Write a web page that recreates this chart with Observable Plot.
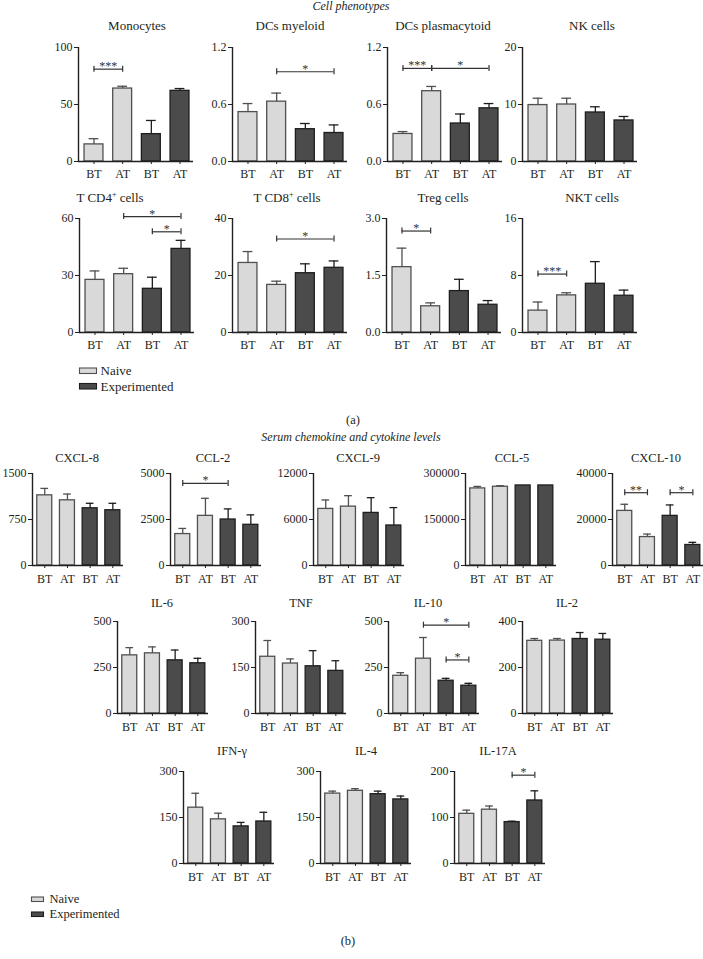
<!DOCTYPE html>
<html>
<head>
<meta charset="utf-8">
<script src="https://cdn.jsdelivr.net/npm/d3@7"></script>
<script src="https://cdn.jsdelivr.net/npm/@observablehq/plot@0.6"></script>
<style>
  html, body { margin: 0; padding: 0; background: #ffffff; }
  #root { position: relative; width: 703px; height: 959px; overflow: hidden; font-family: "Liberation Serif", "Times New Roman", "DejaVu Serif", serif; color: #231f20; }
  #root svg { position: absolute; }
  #root text { font-family: "Liberation Serif", "Times New Roman", "DejaVu Serif", serif; }
</style>
</head>
<body>
<div id="root"></div>
<script>
// ---------------- DATA ----------------
const groupLabels = ["BT", "AT", "BT", "AT"];
const cohorts = ["Naive", "Naive", "Experimented", "Experimented"];
const legendLabels = ["Naive", "Experimented"];

// (a) Cell phenotypes
const cellNames = ["Monocytes", "DCs myeloid", "DCs plasmacytoid", "NK cells",
                   "T CD4+ cells", "T CD8+ cells", "Treg cells", "NKT cells"];
const cellMeans = [
  [15, 64, 24, 62],
  [0.52, 0.63, 0.34, 0.30],
  [0.29, 0.74, 0.40, 0.56],
  [9.9, 10.0, 8.6, 7.2],
  [27.7, 30.7, 23.0, 44.0],
  [24.4, 16.7, 20.8, 22.7],
  [1.72, 0.69, 1.09, 0.73],
  [3.07, 5.21, 6.84, 5.16]
];
const cellErrTop = [
  [20, 66, 36, 64],
  [0.61, 0.72, 0.40, 0.385],
  [0.315, 0.79, 0.50, 0.61],
  [11.1, 11.1, 9.6, 7.9],
  [32.4, 33.8, 29.1, 48.5],
  [28.4, 18.0, 24.1, 25.1],
  [2.22, 0.78, 1.40, 0.84],
  [4.28, 5.58, 9.95, 5.95]
];
const cellMax = [100, 1.2, 1.2, 20, 60, 40, 3, 16];
const cellTickLabels = [
  ["0", "50", "100"], ["0.0", "0.6", "1.2"], ["0.0", "0.6", "1.2"], ["0", "10", "20"],
  ["0", "30", "60"], ["0", "20", "40"], ["0.0", "1.5", "3.0"], ["0", "8", "16"]
];
const cellSig = [
  [{from: 0, to: 1, y: 81, label: "***"}],
  [{from: 1, to: 3, y: 0.945, label: "*"}],
  [{from: 0, to: 1, y: 0.98, label: "***"}, {from: 1, to: 3, y: 0.98, label: "*"}],
  [],
  [{from: 1, to: 3, y: 61, label: "*"}, {from: 2, to: 3, y: 53, label: "*"}],
  [{from: 1, to: 3, y: 32.8, label: "*"}],
  [{from: 0, to: 1, y: 2.67, label: "*"}],
  [{from: 0, to: 1, y: 8.2, label: "***"}]
];

// (b) Serum chemokine and cytokine levels
const cytoNames = ["CXCL-8", "CCL-2", "CXCL-9", "CCL-5", "CXCL-10",
                   "IL-6", "TNF", "IL-10", "IL-2",
                   "IFN-γ", "IL-4", "IL-17A"];
const cytoMeans = [
  [1144, 1063, 933, 901],
  [1709, 2698, 2500, 2212],
  [7380, 7680, 6860, 5220],
  [251400, 256800, 261000, 261000],
  [23740, 12370, 21580, 8920],
  [316, 327, 289, 273],
  [185, 163, 154, 139],
  [205, 298, 178, 151],
  [316, 317, 324, 321],
  [182, 144, 121, 137],
  [228, 237, 226, 209],
  [108, 117, 90, 137]
];
const cytoErrTop = [
  [1257, 1165, 1014, 1014],
  [2014, 3651, 3076, 2752],
  [8547, 9108, 8849, 7554],
  [257900, 260100, 261000, 261000],
  [26620, 13670, 26330, 10070],
  [358, 362, 345, 300],
  [238, 178, 205, 172],
  [222, 413, 191, 164],
  [326, 326, 352, 348],
  [229, 164, 134, 167],
  [236, 244, 236, 220],
  [116, 125, 92, 158]
];
const cytoMax = [1500, 5000, 12000, 300000, 40000, 500, 300, 500, 400, 300, 300, 200];
const cytoTickLabels = [
  ["0", "750", "1500"], ["0", "2500", "5000"], ["0", "6000", "12000"], ["0", "150000", "300000"], ["0", "20000", "40000"],
  ["0", "250", "500"], ["0", "150", "300"], ["0", "250", "500"], ["0", "200", "400"],
  ["0", "150", "300"], ["0", "150", "300"], ["0", "100", "200"]
];
const cytoSig = [
  [],
  [{from: 0, to: 2, y: 4460, label: "*"}],
  [],
  [],
  [{from: 0, to: 1, y: 31650, label: "**"}, {from: 2, to: 3, y: 31650, label: "*"}],
  [], [],
  [{from: 1, to: 3, y: 480, label: "*"}, {from: 2, to: 3, y: 291, label: "*"}],
  [], [], [],
  [{from: 2, to: 3, y: 192, label: "*"}]
];

// ---------------- LAYOUT / STYLE ----------------
const FONT = "'Liberation Serif', 'Times New Roman', 'DejaVu Serif', serif";
const INK = "#231f20";
const LIGHT_FILL = "#d9d9d9", LIGHT_STROKE = "#505050";
const DARK_FILL = "#4b4b4b", DARK_STROKE = "#1e1e1e";
const X0 = -0.54, X1 = 3.47, HALF = 0.33, CAP = 0.17;

const layoutA = {
  W: 115, H: 114, ML: 50, MR: 12, MT: 24, MB: 26, xPad: 5,
  axisX: [78, 232, 387, 522, 79, 232, 386, 522],
  top:   [47, 47, 47, 47, 218, 218, 218, 218],
  titleX: [137, 290, 443, 592, 110, 287, 443, 592],
  titleY: [30, 30, 30, 30, 202, 202, 202, 202],
  titleSize: 13
};
const layoutB = {
  W: 91, H: 92, ML: 46, MR: 10, MT: 24, MB: 26, xPad: 6,
  axisX: [32, 170, 313, 465, 612, 117, 255, 388, 522, 183, 320, 454],
  top:   [473, 473, 473, 473, 473, 621, 621, 621, 621, 771, 771, 771],
  titleX: [77, 213, 358, 512, 656, 162, 301, 428, 567, 232, 366, 498],
  titleY: [462, 462, 462, 462, 462, 607, 607, 607, 607, 755, 755, 755],
  titleSize: 12.5
};

const root = document.getElementById("root");

// ---------------- TEXT OVERLAY ----------------
const overlay = d3.select(root).append("svg")
  .attr("width", 703).attr("height", 959)
  .style("left", "0px").style("top", "0px")
  .style("font-family", FONT).attr("fill", INK);

function addText(str, x, y, size, opts = {}) {
  const t = overlay.append("text")
    .attr("x", x).attr("y", y)
    .style("font-family", FONT)
    .attr("font-size", size)
    .attr("text-anchor", opts.anchor || "middle")
    .attr("font-style", opts.italic ? "italic" : "normal");
  const parts = str.split("+");
  if (parts.length === 1) { t.text(str); return t; }
  t.append("tspan").text(parts[0]);
  t.append("tspan").text("+").attr("font-size", size * 0.62).attr("dy", -size * 0.38);
  t.append("tspan").text(parts[1]).attr("dy", size * 0.38);
  return t;
}

addText("Cell phenotypes", 351, 10, 12, {italic: true});
addText("(a)", 353, 424, 12.5);
addText("Serum chemokine and cytokine levels", 351, 441, 12, {italic: true});
addText("(b)", 348, 945, 12.5);

function addLegend(x, y0, dy, sw, sh, gap, size) {
  legendLabels.forEach((lab, i) => {
    const y = y0 + i * dy;
    overlay.append("rect")
      .attr("x", x).attr("y", y - sh - 1.5).attr("width", sw).attr("height", sh)
      .attr("fill", i === 0 ? LIGHT_FILL : DARK_FILL)
      .attr("stroke", i === 0 ? LIGHT_STROKE : DARK_STROKE).attr("stroke-width", 1.1);
    addText(lab, x + sw + gap, y, size, {anchor: "start"});
  });
}
addLegend(79.5, 375, 15.5, 17, 5.5, 4, 13);
addLegend(31.5, 903, 15, 12, 4.5, 6, 12.5);

// ---------------- PANELS ----------------
function makePanel(means, errs, max, labels, sig, L) {
  const rows = means.map((m, i) => ({i, m, e: errs[i], cohort: cohorts[i]}));
  const naive = rows.filter(d => d.cohort === "Naive");
  const exp = rows.filter(d => d.cohort !== "Naive");
  const tickVals = [0, max / 2, max];
  const ky = max / L.H;
  const errN = naive.filter(d => d.e > d.m);
  const errE = exp.filter(d => d.e > d.m);
  return Plot.plot({
    width: L.ML + L.W + L.MR,
    height: L.MT + L.H + L.MB,
    marginLeft: L.ML, marginRight: L.MR, marginTop: L.MT, marginBottom: L.MB,
    style: {fontFamily: FONT, fontSize: "12px", color: INK, background: "transparent", overflow: "visible"},
    x: {domain: [X0, X1], ticks: [0, 1, 2, 3], tickFormat: d => groupLabels[d], tickSize: 3, tickPadding: L.xPad, label: null},
    y: {domain: [0, max], ticks: tickVals, tickFormat: d => labels[tickVals.indexOf(d)], tickSize: 4, tickPadding: 2, label: null},
    marks: [
      Plot.rectY(naive, {x1: d => d.i - HALF, x2: d => d.i + HALF, y1: 0, y2: "m", fill: LIGHT_FILL, stroke: LIGHT_STROKE, strokeWidth: 1.3}),
      Plot.rectY(exp, {x1: d => d.i - HALF, x2: d => d.i + HALF, y1: 0, y2: "m", fill: DARK_FILL, stroke: DARK_STROKE, strokeWidth: 1.3}),
      Plot.ruleX(errN, {x: "i", y1: "m", y2: "e", stroke: LIGHT_STROKE, strokeWidth: 1.3}),
      Plot.ruleY(errN, {x1: d => d.i - CAP, x2: d => d.i + CAP, y: "e", stroke: LIGHT_STROKE, strokeWidth: 1.3}),
      Plot.ruleX(errE, {x: "i", y1: "m", y2: "e", stroke: DARK_STROKE, strokeWidth: 1.3}),
      Plot.ruleY(errE, {x1: d => d.i - CAP, x2: d => d.i + CAP, y: "e", stroke: DARK_STROKE, strokeWidth: 1.3}),
      // significance brackets
      Plot.ruleY(sig, {x1: "from", x2: "to", y: "y", stroke: "#333", strokeWidth: 1.2}),
      Plot.ruleX(sig, {x: "from", y1: d => d.y - 3 * ky, y2: d => d.y + 3 * ky, stroke: "#333", strokeWidth: 1.2}),
      Plot.ruleX(sig, {x: "to", y1: d => d.y - 3 * ky, y2: d => d.y + 3 * ky, stroke: "#333", strokeWidth: 1.2}),
      Plot.text(sig, {x: d => (d.from + d.to) / 2, y: "y", text: "label", lineAnchor: "bottom", dy: 1, fontSize: 12, fill: "#333"}),
      // axis lines
      Plot.ruleX([X0], {stroke: INK, strokeWidth: 1.4}),
      Plot.ruleY([0], {stroke: INK, strokeWidth: 1.4})
    ]
  });
}

function place(svg, left, top) {
  svg.style.position = "absolute";
  svg.style.left = left + "px";
  svg.style.top = top + "px";
  svg.style.fontFamily = FONT;
  root.appendChild(svg);
}

cellNames.forEach((name, k) => {
  const L = layoutA;
  const svg = makePanel(cellMeans[k], cellErrTop[k], cellMax[k], cellTickLabels[k], cellSig[k], L);
  place(svg, L.axisX[k] - L.ML, L.top[k] - L.MT);
  addText(name, L.titleX[k], L.titleY[k], L.titleSize);
});

cytoNames.forEach((name, k) => {
  const L = layoutB;
  const svg = makePanel(cytoMeans[k], cytoErrTop[k], cytoMax[k], cytoTickLabels[k], cytoSig[k], L);
  place(svg, L.axisX[k] - L.ML, L.top[k] - L.MT);
  addText(name, L.titleX[k], L.titleY[k], L.titleSize);
});
</script>
</body>
</html>
